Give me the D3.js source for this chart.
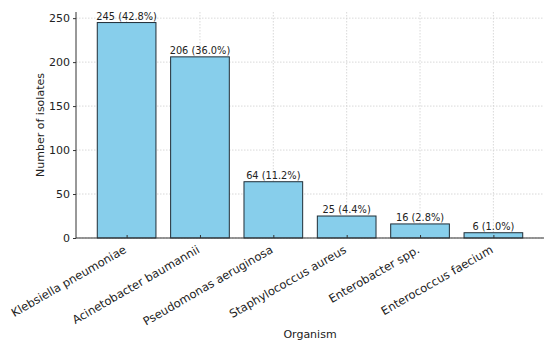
<!DOCTYPE html>
<html>
<head>
<meta charset="utf-8">
<script src="https://d3js.org/d3.v7.min.js"></script>
<style>
  body { margin: 0; background: #fff; }
  svg text { font-family: "DejaVu Sans", sans-serif; fill: #222; }
</style>
</head>
<body>
<script>
// data
var organisms = ["Klebsiella pneumoniae", "Acinetobacter baumannii", "Pseudomonas aeruginosa",
                 "Staphylococcus aureus", "Enterobacter spp.", "Enterococcus faecium"];
var counts = [245, 206, 64, 25, 16, 6];
var percents = ["42.8", "36.0", "11.2", "4.4", "2.8", "1.0"];
var yTicks = [0, 50, 100, 150, 200, 250];

var width = 550, height = 346;
var plotLeft = 76, plotRight = 544, plotTop = 12, plotBottom = 238;

var svg = d3.select("body").append("svg")
    .attr("width", width)
    .attr("height", height);

// matplotlib-like index scale: bars at 0..5, width 0.8, 5% margins
var xScale = d3.scaleLinear()
    .domain([-0.69, 5.69])
    .range([plotLeft, plotRight]);

var yScale = d3.scaleLinear()
    .domain([0, 257])
    .range([plotBottom, plotTop]);

var idx = d3.range(organisms.length);

// grid
var grid = svg.append("g").attr("class", "grid")
    .attr("stroke", "#cfcfcf")
    .attr("stroke-width", 0.8)
    .attr("stroke-dasharray", "1.5,1.5");
grid.selectAll(".h").data(yTicks).enter().append("line")
    .attr("x1", plotLeft).attr("x2", plotRight)
    .attr("y1", function(d) { return yScale(d); })
    .attr("y2", function(d) { return yScale(d); });
grid.selectAll(".v").data(idx).enter().append("line")
    .attr("y1", plotTop).attr("y2", plotBottom)
    .attr("x1", function(i) { return xScale(i); })
    .attr("x2", function(i) { return xScale(i); });

// bars
svg.append("g").selectAll("rect")
    .data(idx).enter().append("rect")
    .attr("x", function(i) { return xScale(i - 0.4); })
    .attr("width", function(i) { return xScale(i + 0.4) - xScale(i - 0.4); })
    .attr("y", function(i) { return yScale(counts[i]); })
    .attr("height", function(i) { return plotBottom - yScale(counts[i]); })
    .attr("fill", "#87ceeb")
    .attr("stroke", "#1f2d36")
    .attr("stroke-width", 1);

// value labels
svg.append("g").selectAll("text")
    .data(idx).enter().append("text")
    .attr("x", function(i) { return xScale(i); })
    .attr("y", function(i) { return yScale(counts[i]) - 3; })
    .attr("text-anchor", "middle")
    .attr("font-size", "9.8px")
    .text(function(i) { return counts[i] + " (" + percents[i] + "%)"; });

// y axis
var yAxis = d3.axisLeft(yScale).tickValues(yTicks).tickSize(3).tickPadding(3);
var gy = svg.append("g")
    .attr("transform", "translate(" + plotLeft + ",0)")
    .call(yAxis);
gy.select(".domain").attr("d", "M0," + plotTop + "V" + plotBottom).attr("stroke", "#333");
gy.selectAll(".tick line").attr("stroke", "#333");
gy.selectAll("text").attr("font-size", "11px").attr("fill", "#222")
    .style("font-family", "DejaVu Sans, sans-serif");

// x axis
var xAxis = d3.axisBottom(xScale).tickValues(idx).tickSize(-3).tickFormat(function(i) { return organisms[i]; });
var gx = svg.append("g")
    .attr("transform", "translate(0," + plotBottom + ")")
    .call(xAxis);
gx.select(".domain").attr("d", "M" + plotLeft + ",0H" + plotRight).attr("stroke", "#333");
gx.selectAll(".tick line").attr("stroke", "#333");
gx.selectAll("text")
    .attr("font-size", "11.5px")
    .attr("fill", "#222")
    .style("font-family", "DejaVu Sans, sans-serif")
    .attr("text-anchor", "end")
    .attr("dy", "0")
    .attr("y", 0)
    .attr("transform", "translate(0,14) rotate(-30)");

// axis titles
svg.append("text")
    .attr("transform", "translate(44," + ((plotTop + plotBottom) / 2) + ") rotate(-90)")
    .attr("text-anchor", "middle")
    .attr("font-size", "11px")
    .text("Number of isolates");

svg.append("text")
    .attr("x", (plotLeft + plotRight) / 2)
    .attr("y", 338)
    .attr("text-anchor", "middle")
    .attr("font-size", "11px")
    .text("Organism");
</script>
</body>
</html>
